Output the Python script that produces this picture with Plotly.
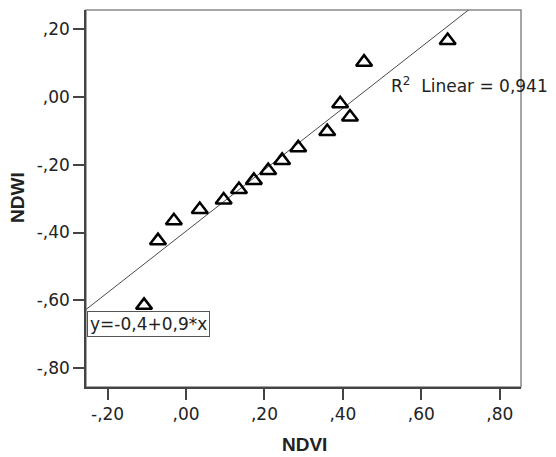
import plotly.graph_objects as go

# Data
ndvi = [-0.107, -0.0715, -0.031, 0.035, 0.096, 0.135, 0.173, 0.2095, 0.245, 0.286,
        0.360, 0.393, 0.418, 0.454, 0.667]
ndwi = [-0.615, -0.424, -0.365, -0.332, -0.304, -0.273, -0.246, -0.217, -0.187, -0.150,
        -0.102, -0.020, -0.059, 0.103, 0.167]

fit_intercept = -0.396
fit_slope = 0.907
r2_text = "R<sup>2</sup>\u00a0\u00a0Linear = 0,941"
eq_text = "y=-0,4+0,9*x"

x_tickvals = [-0.2, 0.0, 0.2, 0.4, 0.6, 0.8]
x_ticktext = ["-,20", ",00", ",20", ",40", ",60", ",80"]
y_tickvals = [0.2, 0.0, -0.2, -0.4, -0.6, -0.8]
y_ticktext = [",20", ",00", "-,20", "-,40", "-,60", "-,80"]

x_range = [-0.255, 0.854]
y_range = [-0.856, 0.257]

OFF = 8  # browser body margin
W, H = 556 - OFF, 457 - OFF
ml, mr, mt, mb = 86 - OFF, 35, 10 - OFF, 70
pw = W - ml - mr
ph = H - mt - mb

def px_x(p):
    return (p - OFF - ml) / pw

def px_y(p):
    return (H - mb - (p - OFF)) / ph

fig = go.Figure()

fig.add_trace(go.Scatter(
    x=x_range,
    y=[fit_intercept + fit_slope * v for v in x_range],
    mode="lines",
    line=dict(color="#4a4a4a", width=1),
    hoverinfo="skip",
))

fig.add_trace(go.Scatter(
    x=ndvi, y=ndwi, mode="markers",
    marker=dict(symbol="triangle-up-open", size=14, color="black",
                line=dict(color="black", width=2.5)),
))

tickfont = dict(family="DejaVu Sans", size=17, color="#222222")
fig.update_xaxes(range=x_range, tickvals=x_tickvals, ticktext=x_ticktext,
                 showgrid=False, zeroline=False, showline=True, linecolor="#444444",
                 linewidth=1.5, ticks="outside", ticklen=11, tickwidth=1.5,
                 tickcolor="#444444", tickfont=tickfont)
fig.update_yaxes(range=y_range, tickvals=y_tickvals, ticktext=y_ticktext,
                 showgrid=False, zeroline=False, showline=True, linecolor="#444444",
                 linewidth=1.5, ticks="outside", ticklen=11, tickwidth=1.5,
                 tickcolor="#444444", tickfont=tickfont)

fig.add_shape(type="rect", xref="paper", yref="paper", x0=0, x1=1, y0=0, y1=1,
              line=dict(color="#888888", width=1.5), layer="below")

fig.add_annotation(xref="paper", yref="paper", x=px_x(389), y=px_y(85),
                   xanchor="left", yanchor="middle", showarrow=False,
                   text=r2_text, font=dict(family="DejaVu Sans", size=17, color="#222222"))

fig.add_annotation(xref="paper", yref="paper", x=px_x(87), y=px_y(311),
                   xanchor="left", yanchor="top", showarrow=False,
                   text=eq_text, font=dict(family="DejaVu Sans", size=17, color="#222222"),
                   bordercolor="#555555", borderwidth=1, borderpad=2, bgcolor="white")

fig.add_annotation(xref="paper", yref="paper", x=px_x(304), y=px_y(444),
                   xanchor="center", yanchor="middle", showarrow=False,
                   text="<b>NDVI</b>", font=dict(family="Liberation Sans", size=19, color="#222222"))
fig.add_annotation(xref="paper", yref="paper", x=px_x(17), y=px_y(198),
                   xanchor="center", yanchor="middle", showarrow=False, textangle=-90,
                   text="<b>NDWI</b>", font=dict(family="Liberation Sans", size=19, color="#222222"))

fig.update_layout(width=W, height=H, margin=dict(l=ml, r=mr, t=mt, b=mb),
                  paper_bgcolor="white", plot_bgcolor="white", showlegend=False)

fig.write_html("out.html")
